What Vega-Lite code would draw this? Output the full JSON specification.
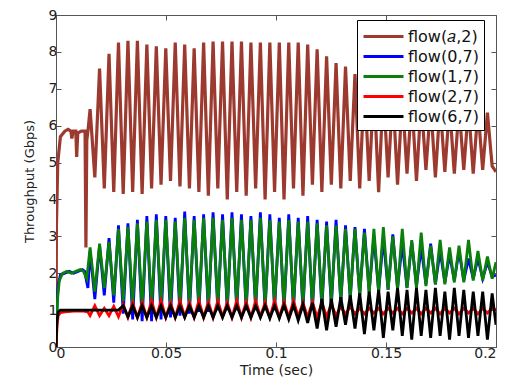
{
  "$schema": "https://vega.github.io/schema/vega-lite/v6.json",
  "width": 440,
  "height": 332,
  "autosize": "none",
  "padding": {"left": 56, "top": 15, "right": 15, "bottom": 41},
  "background": "white",
  "config": {
    "view": {"stroke": "#555", "strokeWidth": 1},
    "font": "DejaVu Sans",
    "axis": {"grid": false, "domainColor": "#555", "tickColor": "#555", "labelColor": "#222", "titleColor": "#222", "labelFont": "DejaVu Sans", "titleFont": "DejaVu Sans", "labelFontSize": 14, "titleFontSize": 14, "titleFontWeight": "normal", "tickSize": -5, "labelPadding": 4},
    "legend": {"orient": "none", "legendX": 301, "legendY": 5, "strokeColor": "#000", "fillColor": "white", "padding": 5, "labelFont": "DejaVu Sans", "labelFontSize": 16, "labelColor": "#111", "symbolType": "M-1,0H3", "symbolSize": 400, "symbolStrokeWidth": 3, "rowPadding": 0, "labelOffset": 23, "title": null}
  },
  "datasets": {
    "a": [
      {"t":0,"v":0},{"t":0.0002,"v":3.3},{"t":0.0008,"v":5.0},{"t":0.002,"v":5.7},{"t":0.004,"v":5.85},{"t":0.0055,"v":5.9},{"t":0.0068,"v":5.85},{"t":0.0072,"v":5.65},{"t":0.0078,"v":5.85},{"t":0.009,"v":5.85},{"t":0.0094,"v":5.15},{"t":0.0099,"v":5.8},{"t":0.0115,"v":5.85},{"t":0.0132,"v":5.85},{"t":0.0136,"v":2.7},{"t":0.014,"v":5.6},{"t":0.0146,"v":5.9},
      {"t":0.0155,"v":6.45},{"t":0.01765,"v":4.6},{"t":0.0198,"v":7.55},{"t":0.02195,"v":4.3},{"t":0.0241,"v":7.95},{"t":0.02625,"v":4.2},{"t":0.0284,"v":8.25},{"t":0.03055,"v":4.15},{"t":0.0327,"v":8.3},{"t":0.03485,"v":4.2},{"t":0.037,"v":8.3},{"t":0.03915,"v":4.15},{"t":0.0413,"v":8.2},{"t":0.04345,"v":4.3},{"t":0.0456,"v":8.15},{"t":0.04775,"v":4.4},{"t":0.0499,"v":8.1},{"t":0.05205,"v":4.5},{"t":0.0542,"v":8.25},{"t":0.05635,"v":4.35},{"t":0.0585,"v":8.2},{"t":0.06065,"v":4.3},{"t":0.0628,"v":8.1},{"t":0.06495,"v":4.2},{"t":0.0671,"v":8.25},{"t":0.06925,"v":4.1},{"t":0.0714,"v":8.28},{"t":0.07355,"v":4.3},{"t":0.0757,"v":8.28},{"t":0.07785,"v":4.0},{"t":0.08,"v":8.28},{"t":0.08215,"v":4.2},{"t":0.0843,"v":8.28},{"t":0.08645,"v":4.1},{"t":0.0886,"v":8.25},{"t":0.09075,"v":4.3},{"t":0.0929,"v":8.25},{"t":0.09505,"v":4.0},{"t":0.0972,"v":8.25},{"t":0.09935,"v":4.2},{"t":0.1015,"v":8.25},{"t":0.10365,"v":4.0},{"t":0.1058,"v":8.25},{"t":0.10795,"v":4.3},{"t":0.1101,"v":8.25},{"t":0.11225,"v":4.1},{"t":0.1144,"v":8.2},{"t":0.11655,"v":4.4},{"t":0.1187,"v":8.07},{"t":0.12085,"v":4.2},{"t":0.123,"v":7.88},{"t":0.12515,"v":4.4},{"t":0.1273,"v":7.7},{"t":0.12945,"v":4.3},{"t":0.1316,"v":7.6},{"t":0.13375,"v":4.5},{"t":0.1359,"v":7.4},{"t":0.13805,"v":4.3},{"t":0.1402,"v":7.25},{"t":0.14235,"v":4.5},{"t":0.1445,"v":7.1},{"t":0.14665,"v":4.2},{"t":0.1488,"v":7.0},{"t":0.15095,"v":4.6},{"t":0.1531,"v":6.9},{"t":0.15525,"v":4.4},{"t":0.1574,"v":6.8},{"t":0.15955,"v":4.7},{"t":0.1617,"v":6.75},{"t":0.16385,"v":4.5},{"t":0.166,"v":6.7},{"t":0.16815,"v":4.8},{"t":0.1703,"v":6.6},{"t":0.17245,"v":4.6},{"t":0.1746,"v":6.6},{"t":0.17675,"v":4.75},{"t":0.1789,"v":6.55},{"t":0.18105,"v":4.7},{"t":0.1832,"v":6.5},{"t":0.18535,"v":4.8},{"t":0.1875,"v":6.5},{"t":0.18965,"v":4.7},{"t":0.1918,"v":6.45},{"t":0.19395,"v":4.8},{"t":0.1961,"v":6.35},{"t":0.19825,"v":4.9},{"t":0.2,"v":4.75}
    ],
    "b": [
      {"t":0,"v":0},{"t":0.0005,"v":1.2},{"t":0.001,"v":1.7},{"t":0.002,"v":1.95},{"t":0.004,"v":2.0},{"t":0.006,"v":2.05},{"t":0.008,"v":2.0},{"t":0.01,"v":2.05},{"t":0.012,"v":2.1},{"t":0.013,"v":2.05},{"t":0.0145,"v":1.6},
      {"t":0.0155,"v":2.6},{"t":0.01765,"v":1.3},{"t":0.0198,"v":2.75},{"t":0.02195,"v":1.4},{"t":0.0241,"v":2.95},{"t":0.02625,"v":1.2},{"t":0.0284,"v":3.3},{"t":0.03055,"v":0.9},{"t":0.0327,"v":3.35},{"t":0.03485,"v":0.75},{"t":0.037,"v":3.45},{"t":0.03915,"v":0.7},{"t":0.0413,"v":3.55},{"t":0.04345,"v":0.7},{"t":0.0456,"v":3.6},{"t":0.04775,"v":0.75},{"t":0.0499,"v":3.55},{"t":0.05205,"v":0.8},{"t":0.0542,"v":3.5},{"t":0.05635,"v":0.85},{"t":0.0585,"v":3.67},{"t":0.06065,"v":0.9},{"t":0.0628,"v":3.55},{"t":0.06495,"v":0.95},{"t":0.0671,"v":3.6},{"t":0.06925,"v":0.95},{"t":0.0714,"v":3.65},{"t":0.07355,"v":1.0},{"t":0.0757,"v":3.6},{"t":0.07785,"v":1.0},{"t":0.08,"v":3.65},{"t":0.08215,"v":1.0},{"t":0.0843,"v":3.6},{"t":0.08645,"v":1.0},{"t":0.0886,"v":3.55},{"t":0.09075,"v":1.0},{"t":0.0929,"v":3.65},{"t":0.09505,"v":1.0},{"t":0.0972,"v":3.6},{"t":0.09935,"v":1.0},{"t":0.1015,"v":3.5},{"t":0.10365,"v":1.0},{"t":0.1058,"v":3.6},{"t":0.10795,"v":1.0},{"t":0.1101,"v":3.5},{"t":0.11225,"v":1.0},{"t":0.1144,"v":3.55},{"t":0.11655,"v":1.0},{"t":0.1187,"v":3.45},{"t":0.12085,"v":1.05},{"t":0.123,"v":3.4},{"t":0.12515,"v":1.1},{"t":0.1273,"v":3.45},{"t":0.12945,"v":1.2},{"t":0.1316,"v":3.3},{"t":0.13375,"v":1.3},{"t":0.1359,"v":3.25},{"t":0.13805,"v":1.4},{"t":0.1402,"v":3.2},{"t":0.14235,"v":1.5},{"t":0.1445,"v":3.0},{"t":0.14665,"v":1.5},{"t":0.1488,"v":2.95},{"t":0.15095,"v":1.55},{"t":0.1531,"v":3.05},{"t":0.15525,"v":1.6},{"t":0.1574,"v":2.8},{"t":0.15955,"v":1.6},{"t":0.1617,"v":2.85},{"t":0.16385,"v":1.65},{"t":0.166,"v":2.7},{"t":0.16815,"v":1.7},{"t":0.1703,"v":2.8},{"t":0.17245,"v":1.7},{"t":0.1746,"v":2.6},{"t":0.17675,"v":1.75},{"t":0.1789,"v":2.5},{"t":0.18105,"v":1.8},{"t":0.1832,"v":2.6},{"t":0.18535,"v":1.8},{"t":0.1875,"v":2.4},{"t":0.18965,"v":1.85},{"t":0.1918,"v":2.4},{"t":0.19395,"v":1.85},{"t":0.1961,"v":2.3},{"t":0.19825,"v":1.9},{"t":0.2,"v":1.95}
    ],
    "g": [
      {"t":0,"v":0},{"t":0.0007,"v":1.3},{"t":0.0015,"v":1.8},{"t":0.003,"v":2.0},{"t":0.005,"v":2.05},{"t":0.007,"v":2.0},{"t":0.009,"v":2.05},{"t":0.011,"v":2.1},{"t":0.0125,"v":2.05},{"t":0.014,"v":1.85},
      {"t":0.0155,"v":2.7},{"t":0.01765,"v":1.5},{"t":0.0198,"v":2.8},{"t":0.02195,"v":1.6},{"t":0.0241,"v":2.85},{"t":0.02625,"v":1.4},{"t":0.0284,"v":3.2},{"t":0.03055,"v":1.25},{"t":0.0327,"v":3.25},{"t":0.03485,"v":1.15},{"t":0.037,"v":3.35},{"t":0.03915,"v":1.1},{"t":0.0413,"v":3.4},{"t":0.04345,"v":1.1},{"t":0.0456,"v":3.45},{"t":0.04775,"v":1.15},{"t":0.0499,"v":3.45},{"t":0.05205,"v":1.15},{"t":0.0542,"v":3.4},{"t":0.05635,"v":1.15},{"t":0.0585,"v":3.5},{"t":0.06065,"v":1.15},{"t":0.0628,"v":3.45},{"t":0.06495,"v":1.15},{"t":0.0671,"v":3.5},{"t":0.06925,"v":1.15},{"t":0.0714,"v":3.5},{"t":0.07355,"v":1.15},{"t":0.0757,"v":3.45},{"t":0.07785,"v":1.15},{"t":0.08,"v":3.5},{"t":0.08215,"v":1.15},{"t":0.0843,"v":3.45},{"t":0.08645,"v":1.15},{"t":0.0886,"v":3.45},{"t":0.09075,"v":1.15},{"t":0.0929,"v":3.5},{"t":0.09505,"v":1.15},{"t":0.0972,"v":3.45},{"t":0.09935,"v":1.15},{"t":0.1015,"v":3.4},{"t":0.10365,"v":1.15},{"t":0.1058,"v":3.45},{"t":0.10795,"v":1.15},{"t":0.1101,"v":3.4},{"t":0.11225,"v":1.15},{"t":0.1144,"v":3.4},{"t":0.11655,"v":1.15},{"t":0.1187,"v":3.35},{"t":0.12085,"v":1.2},{"t":0.123,"v":3.3},{"t":0.12515,"v":1.25},{"t":0.1273,"v":3.3},{"t":0.12945,"v":1.3},{"t":0.1316,"v":3.2},{"t":0.13375,"v":1.35},{"t":0.1359,"v":3.2},{"t":0.13805,"v":1.4},{"t":0.1402,"v":3.1},{"t":0.14235,"v":1.45},{"t":0.1445,"v":3.2},{"t":0.14665,"v":1.5},{"t":0.1488,"v":3.25},{"t":0.15095,"v":1.55},{"t":0.1531,"v":3.0},{"t":0.15525,"v":1.55},{"t":0.1574,"v":3.2},{"t":0.15955,"v":1.6},{"t":0.1617,"v":2.9},{"t":0.16385,"v":1.6},{"t":0.166,"v":3.1},{"t":0.16815,"v":1.65},{"t":0.1703,"v":2.75},{"t":0.17245,"v":1.7},{"t":0.1746,"v":2.9},{"t":0.17675,"v":1.7},{"t":0.1789,"v":2.7},{"t":0.18105,"v":1.75},{"t":0.1832,"v":2.75},{"t":0.18535,"v":1.75},{"t":0.1875,"v":2.9},{"t":0.18965,"v":1.8},{"t":0.1918,"v":2.6},{"t":0.19395,"v":1.8},{"t":0.1961,"v":2.45},{"t":0.19825,"v":1.85},{"t":0.2,"v":2.3}
    ],
    "r": [
      {"t":0,"v":0},{"t":0.0005,"v":0.6},{"t":0.001,"v":0.85},{"t":0.002,"v":0.93},{"t":0.004,"v":0.95},{"t":0.008,"v":0.97},{"t":0.012,"v":0.98},{"t":0.0145,"v":0.95},
      {"t":0.0155,"v":0.85},{"t":0.01765,"v":1.12},{"t":0.0198,"v":0.85},{"t":0.02195,"v":1.05},{"t":0.0241,"v":0.85},{"t":0.02625,"v":1.1},{"t":0.0284,"v":0.82},{"t":0.03055,"v":1.15},{"t":0.0327,"v":0.8},{"t":0.03485,"v":1.2},{"t":0.037,"v":0.8},{"t":0.03915,"v":1.2},{"t":0.0413,"v":0.8},{"t":0.04345,"v":1.25},{"t":0.0456,"v":0.8},{"t":0.04775,"v":1.25},{"t":0.0499,"v":0.8},{"t":0.05205,"v":1.2},{"t":0.0542,"v":0.8},{"t":0.05635,"v":1.25},{"t":0.0585,"v":0.82},{"t":0.06065,"v":1.2},{"t":0.0628,"v":0.8},{"t":0.06495,"v":1.25},{"t":0.0671,"v":0.8},{"t":0.06925,"v":1.22},{"t":0.0714,"v":0.8},{"t":0.07355,"v":1.25},{"t":0.0757,"v":0.82},{"t":0.07785,"v":1.2},{"t":0.08,"v":0.8},{"t":0.08215,"v":1.25},{"t":0.0843,"v":0.8},{"t":0.08645,"v":1.22},{"t":0.0886,"v":0.8},{"t":0.09075,"v":1.25},{"t":0.0929,"v":0.82},{"t":0.09505,"v":1.2},{"t":0.0972,"v":0.8},{"t":0.09935,"v":1.25},{"t":0.1015,"v":0.8},{"t":0.10365,"v":1.22},{"t":0.1058,"v":0.8},{"t":0.10795,"v":1.25},{"t":0.1101,"v":0.82},{"t":0.11225,"v":1.2},{"t":0.1144,"v":0.8},{"t":0.11655,"v":1.22},{"t":0.1187,"v":0.8},{"t":0.12085,"v":1.2},{"t":0.123,"v":0.82},{"t":0.12515,"v":1.15},{"t":0.1273,"v":0.85},{"t":0.12945,"v":1.1},{"t":0.1316,"v":0.88},{"t":0.13375,"v":1.1},{"t":0.1359,"v":0.9},{"t":0.13805,"v":1.05},{"t":0.1402,"v":0.9},{"t":0.14235,"v":1.05},{"t":0.1445,"v":0.92},{"t":0.14665,"v":1.05},{"t":0.1488,"v":0.9},{"t":0.15095,"v":1.05},{"t":0.1531,"v":0.92},{"t":0.15525,"v":1.05},{"t":0.1574,"v":0.9},{"t":0.15955,"v":1.05},{"t":0.1617,"v":0.92},{"t":0.16385,"v":1.05},{"t":0.166,"v":0.9},{"t":0.16815,"v":1.05},{"t":0.1703,"v":0.92},{"t":0.17245,"v":1.05},{"t":0.1746,"v":0.9},{"t":0.17675,"v":1.05},{"t":0.1789,"v":0.92},{"t":0.18105,"v":1.05},{"t":0.1832,"v":0.9},{"t":0.18535,"v":1.05},{"t":0.1875,"v":0.92},{"t":0.18965,"v":1.05},{"t":0.1918,"v":0.9},{"t":0.19395,"v":1.05},{"t":0.1961,"v":0.92},{"t":0.19825,"v":1.05},{"t":0.2,"v":1.0}
    ],
    "k": [
      {"t":0,"v":0},{"t":0.0004,"v":0.7},{"t":0.001,"v":0.95},{"t":0.002,"v":1.0},{"t":0.01,"v":1.0},{"t":0.02,"v":1.0},{"t":0.0284,"v":1.0},
      {"t":0.03055,"v":1.12},{"t":0.0327,"v":0.82},{"t":0.03485,"v":1.12},{"t":0.037,"v":0.8},{"t":0.03915,"v":1.12},{"t":0.0413,"v":0.8},{"t":0.04345,"v":1.12},{"t":0.0456,"v":0.8},{"t":0.04775,"v":1.12},{"t":0.0499,"v":0.8},{"t":0.05205,"v":1.12},{"t":0.0542,"v":0.8},{"t":0.05635,"v":1.12},{"t":0.0585,"v":0.8},{"t":0.06065,"v":1.12},{"t":0.0628,"v":0.8},{"t":0.06495,"v":1.12},{"t":0.0671,"v":0.8},{"t":0.06925,"v":1.12},{"t":0.0714,"v":0.8},{"t":0.07355,"v":1.12},{"t":0.0757,"v":0.8},{"t":0.07785,"v":1.12},{"t":0.08,"v":0.8},{"t":0.08215,"v":1.12},{"t":0.0843,"v":0.8},{"t":0.08645,"v":1.12},{"t":0.0886,"v":0.8},{"t":0.09075,"v":1.12},{"t":0.0929,"v":0.8},{"t":0.09505,"v":1.12},{"t":0.0972,"v":0.78},{"t":0.09935,"v":1.12},{"t":0.1015,"v":0.78},{"t":0.10365,"v":1.14},{"t":0.1058,"v":0.75},{"t":0.10795,"v":1.14},{"t":0.1101,"v":0.72},{"t":0.11225,"v":1.15},{"t":0.1144,"v":0.65},{"t":0.11655,"v":1.2},{"t":0.1187,"v":0.5},{"t":0.12085,"v":1.3},{"t":0.123,"v":0.45},{"t":0.12515,"v":1.3},{"t":0.1273,"v":0.55},{"t":0.12945,"v":1.35},{"t":0.1316,"v":0.6},{"t":0.13375,"v":1.4},{"t":0.1359,"v":0.5},{"t":0.13805,"v":1.45},{"t":0.1402,"v":0.35},{"t":0.14235,"v":1.5},{"t":0.1445,"v":0.45},{"t":0.14665,"v":1.55},{"t":0.1488,"v":0.25},{"t":0.15095,"v":1.5},{"t":0.1531,"v":0.45},{"t":0.15525,"v":1.6},{"t":0.1574,"v":0.3},{"t":0.15955,"v":1.55},{"t":0.1617,"v":0.2},{"t":0.16385,"v":1.6},{"t":0.166,"v":0.3},{"t":0.16815,"v":1.55},{"t":0.1703,"v":0.25},{"t":0.17245,"v":1.6},{"t":0.1746,"v":0.3},{"t":0.17675,"v":1.5},{"t":0.1789,"v":0.2},{"t":0.18105,"v":1.6},{"t":0.1832,"v":0.3},{"t":0.18535,"v":1.55},{"t":0.1875,"v":0.25},{"t":0.18965,"v":1.5},{"t":0.1918,"v":0.3},{"t":0.19395,"v":1.5},{"t":0.1961,"v":0.2},{"t":0.19825,"v":1.45},{"t":0.2,"v":0.6}
    ]
  },
  "resolve": {"axis": {"x": "independent", "y": "independent"}},
  "layer": [
    {
      "data": {"name": "a"},
      "mark": {"type": "line", "strokeWidth": 3.2, "clip": true},
      "encoding": {
        "x": {"field": "t", "type": "quantitative", "scale": {"domain": [0, 0.2], "nice": false}, "axis": {"title": "Time (sec)", "values": [0, 0.05, 0.1, 0.15, 0.2], "format": "~g", "titlePadding": 3}},
        "y": {"field": "v", "type": "quantitative", "scale": {"domain": [0, 9], "nice": false}, "axis": {"title": "Throughput (Gbps)", "titleFontSize": 13, "values": [0,1,2,3,4,5,6,7,8,9], "titlePadding": 12}},
        "color": {"datum": "flow(𝑎,2)", "type": "nominal", "scale": {"domain": ["flow(𝑎,2)", "flow(0,7)", "flow(1,7)", "flow(2,7)", "flow(6,7)"], "range": ["#9c3a30", "#0000ff", "#0a7f0a", "#ff0000", "#000000"]}}
      }
    },
    {
      "data": {"name": "b"},
      "mark": {"type": "line", "strokeWidth": 2.8, "clip": true},
      "encoding": {
        "x": {"field": "t", "type": "quantitative", "axis": {"orient": "top", "labels": false, "title": null, "domain": false, "values": [0, 0.05, 0.1, 0.15, 0.2]}},
        "y": {"field": "v", "type": "quantitative", "axis": {"orient": "right", "labels": false, "title": null, "domain": false, "values": [0,1,2,3,4,5,6,7,8,9]}},
        "color": {"datum": "flow(0,7)", "type": "nominal"}
      }
    },
    {
      "data": {"name": "g"},
      "mark": {"type": "line", "strokeWidth": 2.8, "clip": true},
      "encoding": {
        "x": {"field": "t", "type": "quantitative", "axis": null},
        "y": {"field": "v", "type": "quantitative", "axis": null},
        "color": {"datum": "flow(1,7)", "type": "nominal"}
      }
    },
    {
      "data": {"name": "r"},
      "mark": {"type": "line", "strokeWidth": 2.8, "clip": true},
      "encoding": {
        "x": {"field": "t", "type": "quantitative", "axis": null},
        "y": {"field": "v", "type": "quantitative", "axis": null},
        "color": {"datum": "flow(2,7)", "type": "nominal"}
      }
    },
    {
      "data": {"name": "k"},
      "mark": {"type": "line", "strokeWidth": 2.8, "clip": true},
      "encoding": {
        "x": {"field": "t", "type": "quantitative", "axis": null},
        "y": {"field": "v", "type": "quantitative", "axis": null},
        "color": {"datum": "flow(6,7)", "type": "nominal"}
      }
    }
  ]
}
